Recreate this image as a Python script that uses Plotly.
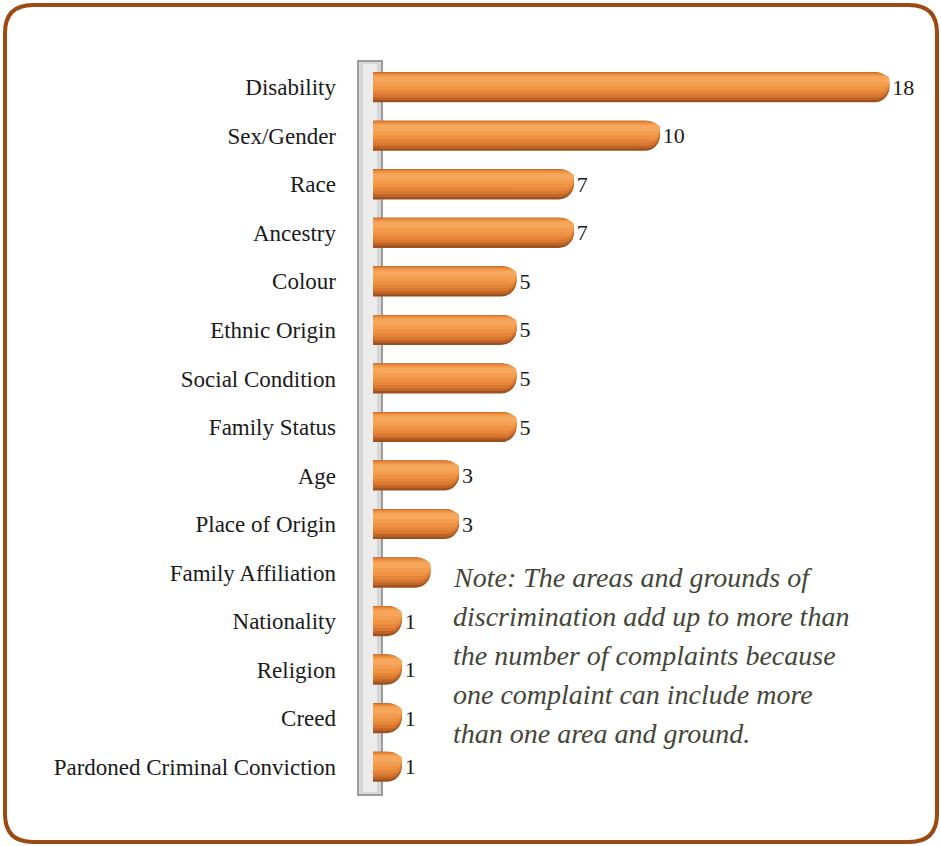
import plotly.graph_objects as go

categories = ["Disability", "Sex/Gender", "Race", "Ancestry", "Colour", "Ethnic Origin",
              "Social Condition", "Family Status", "Age", "Place of Origin",
              "Family Affiliation", "Nationality", "Religion", "Creed",
              "Pardoned Criminal Conviction"]
values = [18, 10, 7, 7, 5, 5, 5, 5, 3, 3, 2, 1, 1, 1, 1]
hidden_labels = ["Family Affiliation"]  # label covered by the note in the original
note_lines = ["Note: The areas and grounds of",
              "discrimination add up to more than",
              "the number of complaints because",
              "one complaint can include more",
              "than one area and ground."]

W, H = 941, 846
ML, MR, MT, MB = 373, 23, 63, 55
PW, PH = W - ML - MR, H - MT - MB

def px(x):
    return (x - ML) / PW

def py(y):
    return 1 - (y - MT) / PH

labels = ["" if c in hidden_labels else str(v) for c, v in zip(categories, values)]
serif = "Liberation Serif, Times New Roman, serif"

# gradient layers: (offset, width, colour, corner radius)
layers = [(-0.31, 0.62, "#9C511E", 15),
          (-0.31, 0.57, "#BE6428", 14),
          (-0.305, 0.51, "#D8772F", 13),
          (-0.29, 0.43, "#E6853A", 11),
          (-0.27, 0.34, "#EE9243", 9),
          (-0.245, 0.23, "#F39D4E", 7),
          (-0.22, 0.12, "#F6A75B", 4)]

fig = go.Figure()
for i, (off, wd, col, cr) in enumerate(layers):
    kw = {}
    if i == 0:
        kw = dict(text=labels, textposition="outside", cliponaxis=False,
                  textfont=dict(family=serif, size=22, color="#1a1a1a"))
    fig.add_trace(go.Bar(y=categories, x=values, orientation="h", width=wd, offset=off,
                         marker=dict(color=col, cornerradius=cr, line=dict(width=0)),
                         hoverinfo="skip", **kw))

shapes = []
# axis wall
shapes.append(dict(type="rect", xref="paper", yref="paper",
                   x0=px(358), x1=px(382), y0=py(795), y1=py(61),
                   fillcolor="#D6D6D6", line=dict(color="#9C9C9C", width=2), layer="below"))
shapes.append(dict(type="rect", xref="paper", yref="paper",
                   x0=px(363), x1=px(377), y0=py(792), y1=py(64),
                   fillcolor="#ECECEC", line=dict(width=0), layer="below"))
# rounded frame
x0, x1, y0, y1, r = 5, 937, 5, 842, 28
path = (f"M {px(x0 + r)},{py(y0)} L {px(x1 - r)},{py(y0)} "
        f"Q {px(x1)},{py(y0)} {px(x1)},{py(y0 + r)} "
        f"L {px(x1)},{py(y1 - r)} Q {px(x1)},{py(y1)} {px(x1 - r)},{py(y1)} "
        f"L {px(x0 + r)},{py(y1)} Q {px(x0)},{py(y1)} {px(x0)},{py(y1 - r)} "
        f"L {px(x0)},{py(y0 + r)} Q {px(x0)},{py(y0)} {px(x0 + r)},{py(y0)} Z")
shapes.append(dict(type="path", xref="paper", yref="paper", path=path,
                   line=dict(color="#9A4A12", width=4), layer="above"))

annotations = []
for i, line in enumerate(note_lines):
    annotations.append(dict(xref="paper", yref="paper", x=px(451), y=py(577 + 39 * i),
                            xanchor="left", yanchor="middle", showarrow=False, text=line,
                            font=dict(family=serif, size=28, color="#45463A", style="italic")))

fig.update_layout(
    width=W, height=H, margin=dict(l=ML, r=MR, t=MT, b=MB),
    paper_bgcolor="white", plot_bgcolor="white",
    barmode="overlay", showlegend=False,
    shapes=shapes, annotations=annotations,
    xaxis=dict(range=[0, 19], visible=False, fixedrange=True),
    yaxis=dict(autorange="reversed", showgrid=False, zeroline=False, showline=False,
               ticks="", ticklabelstandoff=36, fixedrange=True,
               tickfont=dict(family=serif, size=23, color="#1a1a1a")),
)

fig.write_html("out.html", config={"displayModeBar": False},
               post_script="document.body.style.margin='0';document.body.style.overflow='hidden';")
